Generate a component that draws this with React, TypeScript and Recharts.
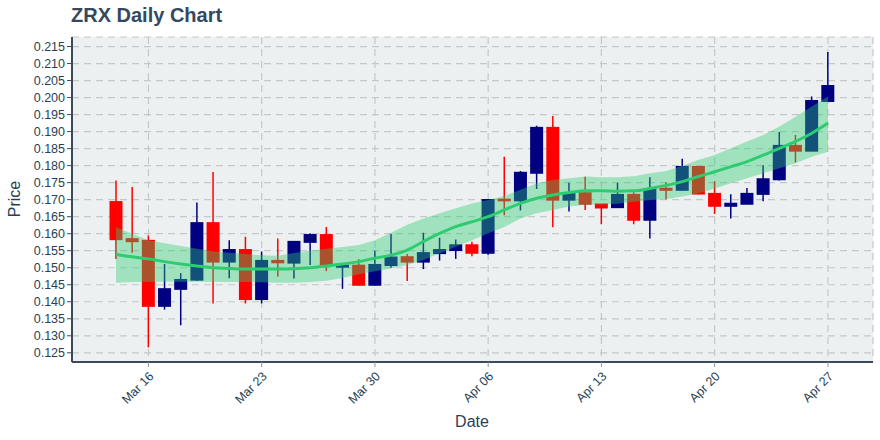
import React from 'react';
import { ComposedChart, Bar, Area, Line, XAxis, YAxis, CartesianGrid } from 'recharts';

const dates = [
  'Mar 14', 'Mar 15', 'Mar 16', 'Mar 17', 'Mar 18', 'Mar 19', 'Mar 20', 'Mar 21', 'Mar 22',
  'Mar 23', 'Mar 24', 'Mar 25', 'Mar 26', 'Mar 27', 'Mar 28', 'Mar 29', 'Mar 30', 'Mar 31',
  'Apr 01', 'Apr 02', 'Apr 03', 'Apr 04', 'Apr 05', 'Apr 06', 'Apr 07', 'Apr 08', 'Apr 09',
  'Apr 10', 'Apr 11', 'Apr 12', 'Apr 13', 'Apr 14', 'Apr 15', 'Apr 16', 'Apr 17', 'Apr 18',
  'Apr 19', 'Apr 20', 'Apr 21', 'Apr 22', 'Apr 23', 'Apr 24', 'Apr 25', 'Apr 26', 'Apr 27',
];

const opens = [
  0.1693, 0.1584, 0.1579, 0.1388, 0.1438, 0.1465, 0.1631, 0.1518, 0.1552,
  0.1408, 0.1520, 0.1515, 0.1576, 0.1596, 0.1503, 0.1506, 0.1450, 0.1508,
  0.1531, 0.1518, 0.1543, 0.1552, 0.1566, 0.1544, 0.1700, 0.1698, 0.1779,
  0.1911, 0.1700, 0.1719, 0.1686, 0.1678, 0.1714, 0.1641, 0.1732, 0.1729,
  0.1796, 0.1717, 0.1682, 0.1688, 0.1717, 0.1760, 0.1858, 0.1844, 0.1990,
];
const highs = [
  0.1756, 0.1737, 0.1595, 0.1511, 0.1484, 0.1692, 0.1781, 0.1581, 0.1591,
  0.1548, 0.1586, 0.1578, 0.1601, 0.1620, 0.1508, 0.1525, 0.1550, 0.1599,
  0.1540, 0.1603, 0.1588, 0.1583, 0.1576, 0.1700, 0.1826, 0.1784, 0.1917,
  0.1946, 0.1750, 0.1767, 0.1687, 0.1750, 0.1722, 0.1766, 0.1751, 0.1820,
  0.1797, 0.1754, 0.1716, 0.1734, 0.1801, 0.1899, 0.1890, 0.2003, 0.2134,
];
const lows = [
  0.1526, 0.1544, 0.1266, 0.1377, 0.1331, 0.1462, 0.1395, 0.1469, 0.1395,
  0.1395, 0.1474, 0.1468, 0.1508, 0.1490, 0.1438, 0.1448, 0.1448, 0.1500,
  0.1461, 0.1496, 0.1521, 0.1526, 0.1534, 0.1538, 0.1654, 0.1668, 0.1731,
  0.1619, 0.1665, 0.1670, 0.1628, 0.1676, 0.1628, 0.1586, 0.1701, 0.1726,
  0.1716, 0.1658, 0.1645, 0.1688, 0.1695, 0.1756, 0.1809, 0.1843, 0.1987,
];
const closes = [
  0.1584, 0.1578, 0.1388, 0.1437, 0.1464, 0.1631, 0.1518, 0.1552, 0.1408,
  0.1520, 0.1516, 0.1576, 0.1596, 0.1508, 0.1506, 0.1450, 0.1508, 0.1530,
  0.1518, 0.1543, 0.1552, 0.1566, 0.1544, 0.1699, 0.1698, 0.1779, 0.1911,
  0.1700, 0.1719, 0.1688, 0.1677, 0.1714, 0.1641, 0.1731, 0.1729, 0.1796,
  0.1718, 0.1682, 0.1688, 0.1717, 0.1760, 0.1858, 0.1844, 0.1990, 0.2034,
];

const bandUpper = [
  0.1619, 0.1600, 0.1581, 0.1572, 0.1564, 0.1556, 0.1548, 0.1544, 0.1540,
  0.1537, 0.1535, 0.1543, 0.1550, 0.1556, 0.1561, 0.1567, 0.1581, 0.1603,
  0.1626, 0.1645, 0.1660, 0.1675, 0.1689, 0.1699, 0.1711, 0.1729, 0.1748,
  0.1758, 0.1763, 0.1768, 0.1766, 0.1766, 0.1769, 0.1778, 0.1784, 0.1800,
  0.1817, 0.1831, 0.1851, 0.1871, 0.1890, 0.1915, 0.1944, 0.1974, 0.2003,
];
const bandMiddle = [
  0.1539, 0.1532, 0.1526, 0.1518, 0.1511, 0.1505, 0.1500, 0.1498, 0.1496,
  0.1496, 0.1496, 0.1497, 0.1500, 0.1505, 0.1511, 0.1518, 0.1528, 0.1537,
  0.1552, 0.1577, 0.1601, 0.1621, 0.1635, 0.1650, 0.1670, 0.1689, 0.1704,
  0.1714, 0.1721, 0.1726, 0.1726, 0.1725, 0.1726, 0.1733, 0.1742, 0.1753,
  0.1768, 0.1782, 0.1797, 0.1812, 0.1831, 0.1851, 0.1871, 0.1895, 0.1925,
];
const bandLower = [
  0.1456, 0.1458, 0.1459, 0.1459, 0.1459, 0.1459, 0.1459, 0.1458, 0.1458,
  0.1457, 0.1456, 0.1456, 0.1458, 0.1462, 0.1470, 0.1481, 0.1490, 0.1498,
  0.1508, 0.1523, 0.1542, 0.1562, 0.1581, 0.1601, 0.1620, 0.1645, 0.1660,
  0.1670, 0.1680, 0.1685, 0.1686, 0.1688, 0.1694, 0.1699, 0.1701, 0.1709,
  0.1719, 0.1733, 0.1748, 0.1763, 0.1778, 0.1792, 0.1807, 0.1826, 0.1841,
];

const xTicks = ['Mar 16', 'Mar 23', 'Mar 30', 'Apr 06', 'Apr 13', 'Apr 20', 'Apr 27'];
const yTicks = [
  0.125, 0.13, 0.135, 0.14, 0.145, 0.15, 0.155, 0.16, 0.165, 0.17,
  0.175, 0.18, 0.185, 0.19, 0.195, 0.2, 0.205, 0.21, 0.215,
];

const data = dates.map((date, i) => ({
  date,
  open: opens[i],
  high: highs[i],
  low: lows[i],
  close: closes[i],
  upper: bandUpper[i],
  middle: bandMiddle[i],
  lower: bandLower[i],
}));

const TEXT = '#2a3f54';
const AXIS = '#3c4b5c';
const FONT = '"Liberation Sans", Arial, sans-serif';
const Y_DOMAIN: [number, number] = [0.1223, 0.2178];
const X_PAD = { left: 36, right: 37 };
const X_PAD_POINT = { left: 44, right: 45 };

const Candle = (props: any) => {
  const { x, y, width, height, payload } = props;
  if (!payload) return null;
  const { open, close, high, low } = payload;
  const top = Math.min(y, y + height);
  const h = Math.abs(height);
  const cx = x + width / 2;
  const ratio = h / (high - low);
  const py = (v: number) => top + (high - v) * ratio;
  const up = close >= open;
  const color = up ? '#000080' : '#ff0000';
  const bTop = py(Math.max(open, close));
  const bBot = py(Math.min(open, close));
  const bw = 13;
  return (
    <g>
      <line x1={cx} x2={cx} y1={top} y2={top + h} stroke={color} strokeWidth={1.5} />
      <rect x={cx - bw / 2} y={bTop - 1} width={bw} height={bBot - bTop + 2} fill={color} />
    </g>
  );
};

const XTick = (props: any) => {
  const { x, y, payload } = props;
  return (
    <g transform={`translate(${x + 6},${y + 10})`}>
      <text
        x={0}
        y={0}
        textAnchor="end"
        transform="rotate(-45)"
        fontSize={12.5}
        fontFamily={FONT}
        fill={TEXT}
      >
        {payload.value}
      </text>
    </g>
  );
};

export default function App() {
  return (
    <div style={{ position: 'absolute', left: 0, top: 0, width: 880, height: 440, background: '#ffffff' }}>
      <div style={{ position: 'absolute', left: 0, top: 0 }}>
        <ComposedChart
          width={880}
          height={440}
          data={data}
          margin={{ top: 37, right: 7, bottom: 0, left: 0 }}
        >
          <CartesianGrid
            fill="#ecf0f1"
            stroke="#c4c8ca"
            strokeDasharray="7 5"
            strokeWidth={1.2}
          />
          <XAxis
            dataKey="date"
            type="category"
            ticks={xTicks}
            interval={0}
            padding={X_PAD}
            height={78}
            tick={<XTick />}
            tickSize={5}
            tickMargin={0}
            axisLine={{ stroke: AXIS, strokeWidth: 2 }}
            tickLine={{ stroke: '#8a949e' }}
          />
          <YAxis
            type="number"
            domain={Y_DOMAIN}
            ticks={yTicks}
            interval={0}
            allowDataOverflow
            width={72}
            tickFormatter={(v: number) => v.toFixed(3)}
            tick={{ fontSize: 12.5, fontFamily: FONT, fill: TEXT }}
            tickSize={5}
            tickMargin={2}
            axisLine={{ stroke: AXIS, strokeWidth: 2 }}
            tickLine={{ stroke: AXIS }}
          />
          <Bar
            dataKey={(d: any) => [d.low, d.high]}
            shape={<Candle />}
            barSize={14}
            isAnimationActive={false}
          />
        </ComposedChart>
      </div>
      <div style={{ position: 'absolute', left: 0, top: 0, pointerEvents: 'none' }}>
        <ComposedChart
          width={880}
          height={440}
          data={data}
          margin={{ top: 37, right: 7, bottom: 78, left: 72 }}
        >
          <XAxis dataKey="date" type="category" hide padding={X_PAD_POINT} />
          <YAxis type="number" hide domain={Y_DOMAIN} allowDataOverflow />
          <Area
            dataKey={(d: any) => [d.lower, d.upper]}
            type="linear"
            fill="rgba(46,204,113,0.4)"
            fillOpacity={1}
            stroke="none"
            isAnimationActive={false}
            dot={false}
            activeDot={false}
          />
          <Line
            dataKey="middle"
            type="monotone"
            stroke="#2ecc71"
            strokeWidth={3}
            dot={false}
            activeDot={false}
            isAnimationActive={false}
          />
        </ComposedChart>
      </div>
      <div
        style={{
          position: 'absolute', left: 71, top: 3, fontFamily: FONT, fontWeight: 'bold',
          fontSize: 20, color: '#34495e', lineHeight: '24px', whiteSpace: 'nowrap',
        }}
      >
        ZRX Daily Chart
      </div>
      <div
        style={{
          position: 'absolute', left: 15, top: 199, width: 0, height: 0, fontFamily: FONT,
          fontSize: 16, color: TEXT,
        }}
      >
        <div style={{ position: 'absolute', left: -30, top: -10, width: 60, textAlign: 'center', lineHeight: '20px', transform: 'rotate(-90deg)' }}>
          Price
        </div>
      </div>
      <div
        style={{
          position: 'absolute', left: 432, top: 412, width: 80, textAlign: 'center', fontFamily: FONT,
          fontSize: 16, color: TEXT, lineHeight: '20px',
        }}
      >
        Date
      </div>
    </div>
  );
}
